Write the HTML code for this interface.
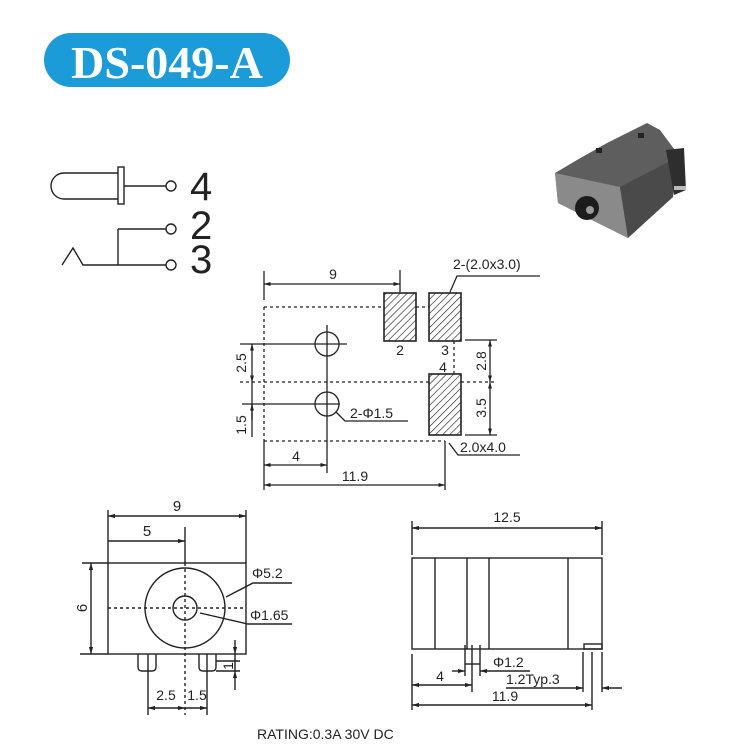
<!DOCTYPE html>
<html><head><meta charset="utf-8"><style>
html,body{margin:0;padding:0;background:#fff;}
svg{display:block;}
text{font-family:"Liberation Sans",sans-serif;fill:#222;}
</style></head><body>
<svg width="735" height="744" viewBox="0 0 735 744" xmlns="http://www.w3.org/2000/svg">
<defs>
<marker id="a" viewBox="0 0 10 10" refX="10" refY="5" markerWidth="7" markerHeight="5" orient="auto-start-reverse"><path d="M0,2 L10,5 L0,8 z" fill="#222"/></marker>
<pattern id="h" width="5" height="5" patternUnits="userSpaceOnUse" patternTransform="rotate(45)"><line x1="0" y1="0" x2="0" y2="5" stroke="#222" stroke-width="1.3"/></pattern>
</defs>
<!-- title -->
<rect x="44" y="33" width="246" height="54" rx="27" fill="#1b9bd8"/>
<text x="167" y="78" text-anchor="middle" style="font-family:'Liberation Serif',serif;font-weight:bold;font-size:46px;fill:#fff">DS-049-A</text>

<!-- schematic -->
<g stroke="#222" stroke-width="1.4" fill="none">
<path d="M118,173 L64,173 A13,13 0 0 0 64,199 L118,199"/>
<rect x="118" y="167" width="6" height="37" fill="#fff"/>
<line x1="124" y1="186" x2="166" y2="186"/>
<circle cx="171" cy="186" r="5"/>
<line x1="118" y1="229" x2="166" y2="229"/>
<circle cx="171" cy="229" r="5"/>
<line x1="118" y1="229" x2="118" y2="265"/>
<path d="M62,265 L73,248 L83,265 L166,265"/>
<circle cx="171" cy="265" r="5"/>
</g>
<text x="190" y="200" font-size="40">4</text>
<text x="190" y="239" font-size="40">2</text>
<text x="190" y="273" font-size="40">3</text>

<!-- photo -->
<g>
<polygon points="555,173 577,160 607,143 647,123 660,130 677,153 673,197 640,220 628,238 558,203" fill="#5e5e5e"/>
<polygon points="555,173 620,187 628,238 558,203" fill="#8a8a8a"/>
<polygon points="620,187 672,160 673,197 628,238" fill="#4a4a4a"/>
<polygon points="666,150 684,148 686,190 674,195" fill="#2e2e2e"/>
<ellipse cx="587" cy="208" rx="12" ry="12" fill="#1c1c1c"/>
<ellipse cx="590" cy="210" rx="4" ry="4" fill="#999"/>
<rect x="674" y="186" width="12" height="4" fill="#bbb"/>
<rect x="596" y="148" width="6" height="5" fill="#222"/>
<rect x="638" y="133" width="6" height="5" fill="#222"/>
</g>

<!-- footprint -->
<g stroke="#222" stroke-width="1.3" fill="none">
<line x1="264" y1="271" x2="264" y2="300"/>
<line x1="264" y1="441" x2="264" y2="490"/>
<line x1="400" y1="270" x2="400" y2="292"/>
<line x1="264" y1="284" x2="400" y2="284" marker-start="url(#a)" marker-end="url(#a)"/>
<g stroke-dasharray="3,3">
<line x1="264" y1="307" x2="384" y2="307"/>
<line x1="416" y1="307" x2="429" y2="307"/>
<line x1="264" y1="307" x2="264" y2="441"/>
<line x1="264" y1="441" x2="445" y2="441"/>
<line x1="240" y1="382" x2="429" y2="382"/>
<line x1="461" y1="382" x2="495" y2="382"/>
<line x1="454" y1="341" x2="454" y2="374"/>
</g>
<rect x="384" y="293" width="32" height="48" fill="url(#h)" stroke-width="1.6"/>
<rect x="429" y="293" width="32" height="48" fill="url(#h)" stroke-width="1.6"/>
<rect x="429" y="374" width="32" height="61" fill="url(#h)" stroke-width="1.6"/>
<circle cx="327" cy="344" r="12"/>
<circle cx="327" cy="404" r="12"/>
<line x1="327" y1="325" x2="327" y2="473"/>
<line x1="240" y1="344" x2="347" y2="344"/>
<line x1="242" y1="404" x2="340" y2="404"/>
<line x1="252" y1="344" x2="252" y2="382" marker-start="url(#a)" marker-end="url(#a)"/>
<line x1="252" y1="382" x2="252" y2="437"/>
<line x1="252" y1="420" x2="252" y2="404" marker-end="url(#a)"/>
<path d="M336,412 L345,421 L408,421"/>
<line x1="465" y1="340" x2="497" y2="340"/>
<line x1="465" y1="435" x2="497" y2="435"/>
<line x1="490" y1="340" x2="490" y2="382" marker-start="url(#a)" marker-end="url(#a)"/>
<line x1="490" y1="382" x2="490" y2="435" marker-start="url(#a)" marker-end="url(#a)"/>
<path d="M449,443 L458,455 L520,455"/>
<path d="M450,292 L457,276 L540,276"/>
<line x1="264" y1="465" x2="327" y2="465" marker-start="url(#a)" marker-end="url(#a)"/>
<line x1="445" y1="441" x2="445" y2="490"/>
<line x1="264" y1="485" x2="445" y2="485" marker-start="url(#a)" marker-end="url(#a)"/>
</g>
<g font-size="14">
<text x="333" y="279" text-anchor="middle">9</text>
<text x="453" y="269">2-(2.0x3.0)</text>
<text x="400" y="355" text-anchor="middle">2</text>
<text x="445" y="355" text-anchor="middle">3</text>
<text x="443" y="372" text-anchor="middle">4</text>
<text x="350" y="418">2-Φ1.5</text>
<text x="460" y="452">2.0x4.0</text>
<text x="296" y="461" text-anchor="middle">4</text>
<text x="355" y="481" text-anchor="middle">11.9</text>
<text transform="translate(246,363) rotate(-90)" text-anchor="middle">2.5</text>
<text transform="translate(246,425) rotate(-90)" text-anchor="middle">1.5</text>
<text transform="translate(486,361) rotate(-90)" text-anchor="middle">2.8</text>
<text transform="translate(486,408) rotate(-90)" text-anchor="middle">3.5</text>
</g>

<!-- front view -->
<g stroke="#222" stroke-width="1.4" fill="none">
<rect x="108" y="563" width="138" height="91"/>
<line x1="108" y1="510" x2="108" y2="563"/>
<line x1="246" y1="510" x2="246" y2="563"/>
<line x1="108" y1="516" x2="246" y2="516" marker-start="url(#a)" marker-end="url(#a)"/>
<line x1="108" y1="541" x2="185" y2="541" marker-end="url(#a)"/>
<line x1="185" y1="527" x2="185" y2="563"/>
<g stroke-dasharray="3,3"><line x1="185" y1="563" x2="185" y2="715"/><line x1="108" y1="608" x2="246" y2="608"/></g>
<circle cx="185" cy="608" r="40"/>
<circle cx="185" cy="608" r="12"/>
<line x1="82" y1="563" x2="108" y2="563"/>
<line x1="80" y1="654" x2="108" y2="654"/>
<line x1="91" y1="563" x2="91" y2="654" marker-start="url(#a)" marker-end="url(#a)"/>
<path d="M226,597 L253,583 L292,583"/>
<path d="M292,624 L248,624 L200,613"/>
<path d="M138,654 L138,667 Q138,671 142,671 L152,671 Q156,671 156,667 L156,654"/>
<path d="M199,654 L199,667 Q199,671 203,671 L212,671 Q216,671 216,667 L216,654"/>
<line x1="148" y1="654" x2="148" y2="715"/>
<line x1="207" y1="654" x2="207" y2="715"/>
<line x1="148" y1="708" x2="185" y2="708" marker-start="url(#a)" marker-end="url(#a)"/>
<line x1="185" y1="708" x2="207" y2="708" marker-end="url(#a)"/>
<line x1="235" y1="640" x2="235" y2="654" marker-end="url(#a)"/>
<line x1="235" y1="690" x2="235" y2="671" marker-end="url(#a)"/>
<line x1="235" y1="654" x2="235" y2="671"/>
<line x1="216" y1="661" x2="240" y2="661"/>
<line x1="216" y1="671" x2="240" y2="671"/>
</g>
<g font-size="15">
<text x="177" y="511" text-anchor="middle">9</text>
<text x="147" y="536" text-anchor="middle">5</text>
<text transform="translate(87,608) rotate(-90)" text-anchor="middle">6</text>
<text x="252" y="578" font-size="14">Φ5.2</text>
<text x="250" y="620" font-size="14">Φ1.65</text>
<text x="166" y="700" text-anchor="middle" font-size="14">2.5</text>
<text x="197" y="700" text-anchor="middle" font-size="14">1.5</text>
<text transform="translate(233,666) rotate(-90)" text-anchor="middle" font-size="14">1</text>
</g>

<!-- side view -->
<g stroke="#222" stroke-width="1.4" fill="none">
<rect x="412" y="558" width="190" height="91"/>
<line x1="435" y1="558" x2="435" y2="649"/>
<line x1="467" y1="558" x2="467" y2="649"/>
<line x1="489" y1="558" x2="489" y2="649"/>
<line x1="568" y1="558" x2="568" y2="649"/>
<rect x="584" y="644" width="18" height="5"/>
<line x1="412" y1="521" x2="412" y2="555"/>
<line x1="602" y1="521" x2="602" y2="555"/>
<line x1="412" y1="528" x2="602" y2="528" marker-start="url(#a)" marker-end="url(#a)"/>
<line x1="465" y1="645" x2="465" y2="676"/>
<line x1="472" y1="645" x2="472" y2="692"/>
<line x1="480" y1="645" x2="480" y2="676"/>
<line x1="465" y1="664" x2="480" y2="664"/>
<line x1="452" y1="671" x2="465" y2="671" marker-end="url(#a)"/>
<line x1="530" y1="671" x2="480" y2="671" marker-end="url(#a)"/>
<line x1="412" y1="654" x2="412" y2="710"/>
<line x1="412" y1="685" x2="472" y2="685" marker-start="url(#a)" marker-end="url(#a)"/>
<line x1="583" y1="652" x2="583" y2="692"/>
<line x1="592" y1="652" x2="592" y2="710"/>
<line x1="602" y1="652" x2="602" y2="692"/>
<line x1="506" y1="688" x2="583" y2="688" marker-end="url(#a)"/>
<line x1="622" y1="688" x2="602" y2="688" marker-end="url(#a)"/>
<line x1="412" y1="705" x2="592" y2="705" marker-start="url(#a)" marker-end="url(#a)"/>
</g>
<g font-size="14">
<text x="507" y="522" text-anchor="middle">12.5</text>
<text x="493" y="667">Φ1.2</text>
<text x="440" y="681" text-anchor="middle">4</text>
<text x="506" y="684">1.2Typ.3</text>
<text x="505" y="701" text-anchor="middle">11.9</text>
</g>
<text x="257" y="739" font-size="14">RATING:0.3A 30V DC</text>
</svg>
</body></html>
